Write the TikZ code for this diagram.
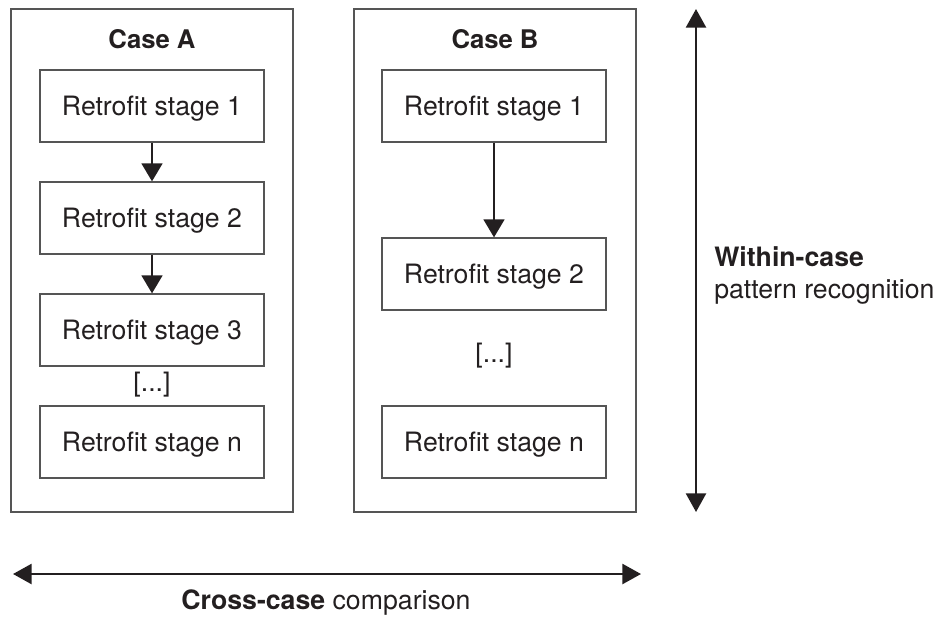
\documentclass[tikz,border=0pt]{standalone}
\usepackage{fontspec}
\setmainfont{TeX Gyre Heros}
\usepackage{tikz}
\usetikzlibrary{arrows.meta}

\definecolor{boxline}{HTML}{555555}
\definecolor{ink}{HTML}{231F20}

\tikzset{
  casebox/.style={draw=boxline, line width=0.9pt, minimum width=211.5pt, minimum height=377.25pt, inner sep=0pt},
  stagebox/.style={draw=boxline, line width=0.9pt, minimum width=168pt, minimum height=54pt, inner sep=0pt, text depth=0pt, text=ink},
  casetitle/.style={inner sep=0pt, text depth=0pt, text=ink, font=\fontsize{19.25pt}{22pt}\selectfont\bfseries},
  flow/.style={draw=ink, line width=1.9pt, -{Triangle[length=13.5pt,width=15.5pt]}},
  twoway/.style={draw=ink, line width=1.9pt, {Triangle[length=14pt,width=15pt]}-{Triangle[length=14pt,width=15pt]}}
}

\begin{document}
\begin{tikzpicture}[x=0.75pt,y=0.75pt,yscale=-1,xscale=1,font=\fontsize{20pt}{24pt}\selectfont]
%set diagram left start at 0, and has height of 617
\useasboundingbox (0,0) rectangle (941,617);

%Shape: Rectangle [case A]
\draw (152,260.5) node (caseA) [casebox] {};
%Shape: Rectangle [case B]
\draw (495,260.5) node (caseB) [casebox] {};

% Text Node
\draw (152,39) node (titleA) [casetitle] {Case A};
% Text Node
\draw (495,39) node (titleB) [casetitle] {Case B};

%Shape: Rectangle [stages of case A]
\draw (152,106) node (a1) [stagebox] {Retrofit stage 1};
\draw (152,218) node (a2) [stagebox] {Retrofit stage 2};
\draw (152,330) node (a3) [stagebox] {Retrofit stage 3};
\draw (152,385) node (adots) [inner sep=0pt, text=ink] {[...]};
\draw (152,442) node (an) [stagebox] {Retrofit stage n};

%Shape: Rectangle [stages of case B]
\draw (494,106) node (b1) [stagebox] {Retrofit stage 1};
\draw (494,274) node (b2) [stagebox] {Retrofit stage 2};
\draw (494,356) node (bdots) [inner sep=0pt, text=ink] {[...]};
\draw (494,442) node (bn) [stagebox] {Retrofit stage n};

%Straight Lines [stage arrows]
\draw [flow] (a1) -- (a2);
\draw [flow] (a2) -- (a3);
\draw [flow] (b1) -- (b2);

%Straight Lines [within-case axis]
\coordinate (wtop) at (696,9);
\coordinate (wbot) at (696,512);
\draw [twoway] (wtop) -- (wbot);
%Straight Lines [cross-case axis]
\coordinate (cleft) at (13,574);
\coordinate (cright) at (641,574);
\draw [twoway] (cleft) -- (cright);

% Text Node
\draw (714,266) node (within) [anchor=base west, inner sep=0pt, text=ink] {\textbf{Within-case}};
% Text Node
\draw (714,298) node (pattern) [anchor=base west, inner sep=0pt, text=ink] {pattern recognition};
% Text Node
\draw (326,609) node (cross) [anchor=base, inner sep=0pt, text=ink] {\textbf{Cross-case} comparison};

\end{tikzpicture}
\end{document}
